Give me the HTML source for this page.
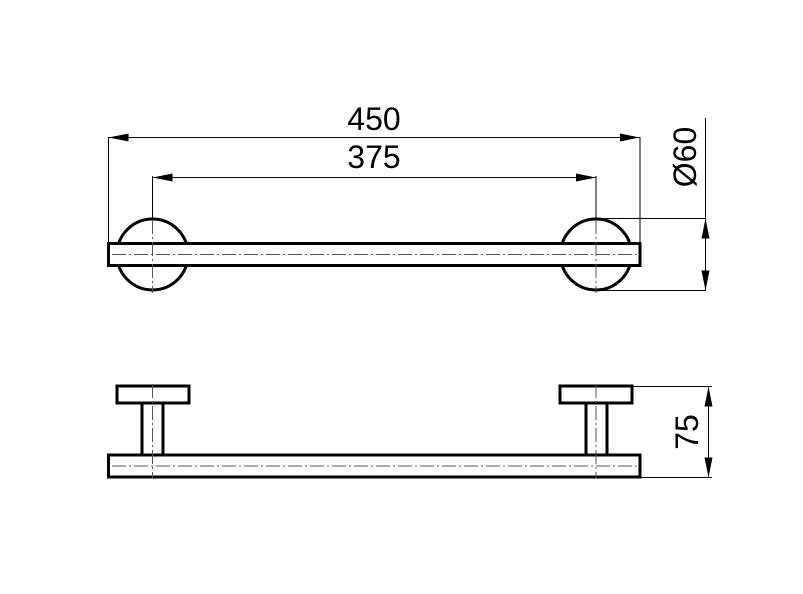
<!DOCTYPE html>
<html><head><style>html,body{margin:0;padding:0;background:#fff}svg{display:block}</style></head><body>
<svg width="803" height="594" viewBox="0 0 803 594" xmlns="http://www.w3.org/2000/svg">
<defs>
<marker id="a" markerWidth="20" markerHeight="8" refX="20" refY="4" orient="auto" markerUnits="userSpaceOnUse"><path d="M0,0 L20,4 L0,8 Z" fill="#000"/></marker>
</defs>
<g fill="none" stroke="#000">
<!-- top view -->
<circle cx="152.5" cy="254.5" r="35.5" stroke-width="3"/>
<circle cx="596" cy="254.5" r="35.5" stroke-width="3"/>
<rect x="108.5" y="243.5" width="531.5" height="22" fill="#fff" stroke-width="3"/>
<line x1="112" y1="254.5" x2="638" y2="254.5" stroke="#555" stroke-width="1" stroke-dasharray="14,3,2,3"/>
<line x1="152.5" y1="176" x2="152.5" y2="293" stroke="#555" stroke-width="1" stroke-dasharray="14,3,2,3"/>
<line x1="596" y1="176" x2="596" y2="293" stroke="#555" stroke-width="1" stroke-dasharray="14,3,2,3"/>
<line x1="152.5" y1="176" x2="152.5" y2="219" stroke-width="1"/>
<line x1="596" y1="176" x2="596" y2="219" stroke-width="1"/>
<!-- 450 -->
<line x1="108.5" y1="137" x2="108.5" y2="243" stroke-width="1"/>
<line x1="640" y1="137" x2="640" y2="243" stroke-width="1"/>
<line x1="128" y1="137.5" x2="108.5" y2="137.5" stroke-width="1" marker-end="url(#a)"/>
<line x1="128" y1="137.5" x2="640" y2="137.5" stroke-width="1" marker-end="url(#a)"/>
<!-- 375 -->
<line x1="170" y1="177.5" x2="152.5" y2="177.5" stroke-width="1" marker-end="url(#a)"/>
<line x1="170" y1="177.5" x2="596" y2="177.5" stroke-width="1" marker-end="url(#a)"/>
<!-- Ø60 -->
<line x1="596" y1="218.5" x2="706" y2="218.5" stroke-width="1"/>
<line x1="596" y1="290.5" x2="706" y2="290.5" stroke-width="1"/>
<line x1="705.5" y1="118" x2="705.5" y2="291" stroke-width="1"/>
<line x1="705.5" y1="254" x2="705.5" y2="218.5" stroke-width="1" marker-end="url(#a)"/>
<line x1="705.5" y1="254" x2="705.5" y2="290.5" stroke-width="1" marker-end="url(#a)"/>
<!-- bottom view -->
<rect x="117" y="386" width="72" height="17" stroke-width="3"/>
<rect x="560" y="386" width="72" height="17" stroke-width="3"/>
<rect x="142" y="403" width="21" height="52" stroke-width="3"/>
<rect x="586" y="403" width="21" height="52" stroke-width="3"/>
<rect x="108.5" y="455" width="531.5" height="22" stroke-width="3"/>
<line x1="112" y1="466" x2="638" y2="466" stroke="#555" stroke-width="1" stroke-dasharray="14,3,2,3"/>
<line x1="152.5" y1="384" x2="152.5" y2="478" stroke="#555" stroke-width="1" stroke-dasharray="14,3,2,3"/>
<line x1="596" y1="384" x2="596" y2="478" stroke="#555" stroke-width="1" stroke-dasharray="14,3,2,3"/>
<!-- 75 -->
<line x1="632" y1="386.5" x2="712" y2="386.5" stroke-width="1"/>
<line x1="640" y1="477.5" x2="712" y2="477.5" stroke-width="1"/>
<line x1="708.5" y1="432" x2="708.5" y2="386.5" stroke-width="1" marker-end="url(#a)"/>
<line x1="708.5" y1="432" x2="708.5" y2="477.5" stroke-width="1" marker-end="url(#a)"/>
</g>
<g font-family="Liberation Sans, sans-serif" font-size="32" fill="#000" text-anchor="middle">
<text x="374" y="130">450</text>
<text x="374" y="168">375</text>
<text transform="translate(696,157) rotate(-90)">Ø60</text>
<text transform="translate(698,432) rotate(-90)">75</text>
</g>
</svg>
</body></html>
